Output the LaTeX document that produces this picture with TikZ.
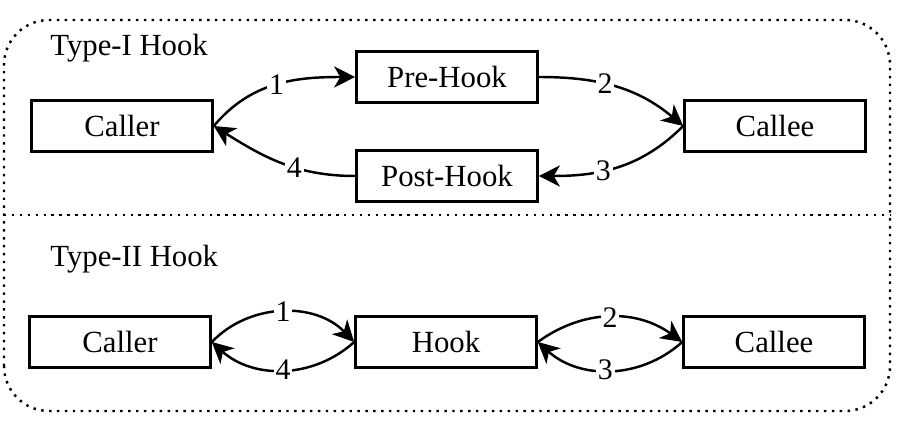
\documentclass[tikz,border=0pt]{standalone}
\usepackage{fontspec}
\setmainfont{Liberation Serif}
\usetikzlibrary{arrows.meta}

\begin{document}
\begin{tikzpicture}[x=0.02cm,y=0.02cm,
  box/.style={draw,line width=1.5pt,minimum width=3.62cm,minimum height=1.02cm,inner sep=0,font=\fontsize{17.5}{21}\selectfont},
  title/.style={anchor=west,inner sep=0,font=\fontsize{17.5}{21}\selectfont},
  flow/.style={line width=1.4pt,-{Stealth[length=12pt,width=12pt,inset=3.5pt]}},
  num/.style={fill=white,inner sep=1pt,font=\fontsize{17}{20}\selectfont},
  frame/.style={line width=1.4pt,dash pattern=on 1.4pt off 3.1pt}]
\useasboundingbox (0,0) rectangle (898,426);

\draw[frame,rounded corners=0.9cm] (4,15) rectangle (890,406);
\coordinate (divL) at (4,211);
\coordinate (divR) at (890,211);
\draw[frame] (divL) -- (divR);

\node[title] (typeI) at (50,378) {Type-I Hook};
\node[box] (caller) at (122,300) {Caller};
\node[box] (pre) at (447,349) {Pre-Hook};
\node[box] (post) at (447,250) {Post-Hook};
\node[box] (callee) at (775,300) {Callee};

\draw[flow] (caller.east) to[out=50,in=180] node[num] {1} (pre.west);
\draw[flow] (pre.east) to[out=0,in=140] node[num,pos=0.42] {2} (callee.west);
\draw[flow] (callee.west) to[out=-135,in=0] node[num,pos=0.6] {3} (post.east);
\draw[flow] (post.west) to[out=180,in=-32] node[num,pos=0.4] {4} (caller.east);

\node[title] (typeII) at (50,167) {Type-II Hook};
\node[box] (caller2) at (120,84) {Caller};
\node[box] (hook) at (446,84) {Hook};
\node[box] (callee2) at (774,84) {Callee};

\draw[flow] (caller2.east) to[bend left=46] node[num] {1} (hook.west);
\draw[flow] (hook.east) to[bend left=36] node[num] {2} (callee2.west);
\draw[flow] (callee2.west) to[bend left=42] node[num,pos=0.53] {3} (hook.east);
\draw[flow] (hook.west) to[bend left=42] node[num] {4} (caller2.east);
\end{tikzpicture}
\end{document}
